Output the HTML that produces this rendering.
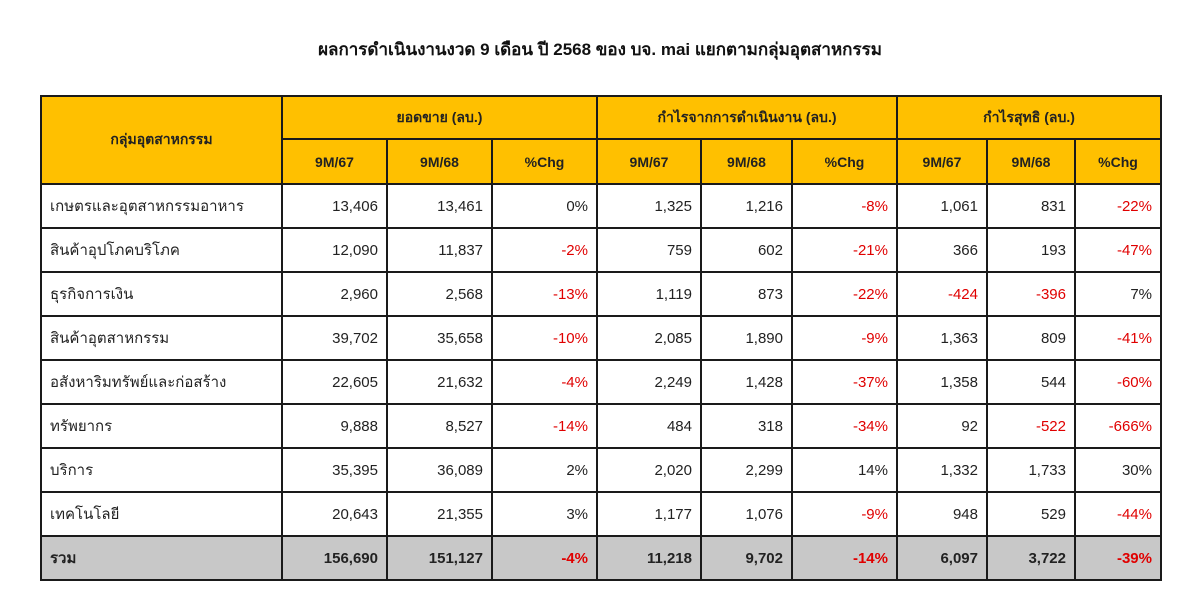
<!DOCTYPE html>
<html><head><meta charset="utf-8"><style>
body{margin:0;width:1200px;height:616px;background:#fff;font-family:"Liberation Sans","Noto Sans CJK SC",sans-serif;overflow:hidden;position:relative}
#title{position:absolute;top:36px;left:0;width:1200px;text-align:center;font-weight:bold;font-size:17px;color:#111}
table{position:absolute;left:40px;top:95px;border-collapse:collapse;table-layout:fixed;font-size:15px;color:#222}
td,th{border:2.5px solid #1a1a1a;padding:0 8px;white-space:nowrap;overflow:hidden}
th{background:#ffc000;font-weight:bold;font-size:14px;color:#222}
tr.h1{height:43px}tr.h2{height:45px}tr.d{height:44px}
td{text-align:right}
td.n{text-align:left}
.r{color:#e00000}
tr.t td{background:#c8c8c8;font-weight:bold}
</style></head><body>
<div id="title">ผลการดำเนินงานงวด 9 เดือน ปี 2568 ของ บจ. mai แยกตามกลุ่มอุตสาหกรรม</div>
<table>
<colgroup><col style="width:241px"><col style="width:105px"><col style="width:105px"><col style="width:105px"><col style="width:104px"><col style="width:91px"><col style="width:105px"><col style="width:90px"><col style="width:88px"><col style="width:86px"></colgroup>
<tr class="h1"><th rowspan="2">กลุ่มอุตสาหกรรม</th><th colspan="3">ยอดขาย (ลบ.)</th><th colspan="3">กำไรจากการดำเนินงาน (ลบ.)</th><th colspan="3">กำไรสุทธิ (ลบ.)</th></tr>
<tr class="h2"><th>9M/67</th><th>9M/68</th><th>%Chg</th><th>9M/67</th><th>9M/68</th><th>%Chg</th><th>9M/67</th><th>9M/68</th><th>%Chg</th></tr>
<tbody id="tb"></tbody>
</table>
<script>
const names=["เกษตรและอุตสาหกรรมอาหาร","สินค้าอุปโภคบริโภค","ธุรกิจการเงิน","สินค้าอุตสาหกรรม","อสังหาริมทรัพย์และก่อสร้าง","ทรัพยากร","บริการ","เทคโนโลยี","รวม"];
const sales67=["13,406","12,090","2,960","39,702","22,605","9,888","35,395","20,643","156,690"];
const sales68=["13,461","11,837","2,568","35,658","21,632","8,527","36,089","21,355","151,127"];
const salesChg=["0%","-2%","-13%","-10%","-4%","-14%","2%","3%","-4%"];
const op67=["1,325","759","1,119","2,085","2,249","484","2,020","1,177","11,218"];
const op68=["1,216","602","873","1,890","1,428","318","2,299","1,076","9,702"];
const opChg=["-8%","-21%","-22%","-9%","-37%","-34%","14%","-9%","-14%"];
const np67=["1,061","366","-424","1,363","1,358","92","1,332","948","6,097"];
const np68=["831","193","-396","809","544","-522","1,733","529","3,722"];
const npChg=["-22%","-47%","7%","-41%","-60%","-666%","30%","-44%","-39%"];
const tb=document.getElementById('tb');
names.forEach((n,i)=>{
const tr=document.createElement('tr');
tr.className='d'+(i===names.length-1?' t':'');


const vals=[sales67[i],sales68[i],salesChg[i],op67[i],op68[i],opChg[i],np67[i],np68[i],npChg[i]];
const c0=document.createElement('td');c0.className='n';c0.textContent=n;


tr.appendChild(c0);
vals.forEach((v,j)=>{const td=document.createElement('td');td.textContent=v;
if(j%3===2&&v.startsWith('-'))td.className='r';
if(j>=6&&j<8&&v.startsWith('-'))td.className='r';


tr.appendChild(td);});
tb.appendChild(tr);});
</script>
</body></html>
